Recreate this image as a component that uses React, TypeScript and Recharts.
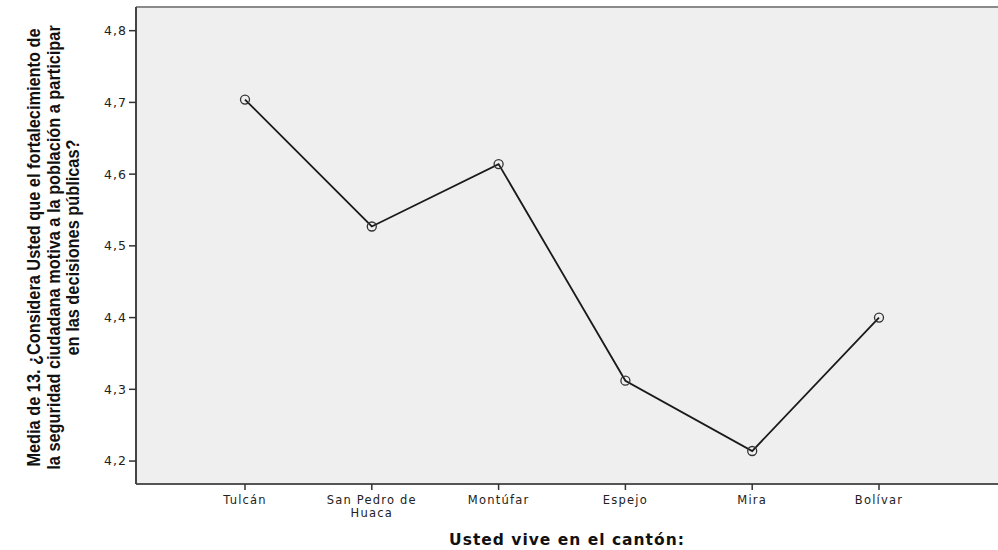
import React from 'react';
import { CartesianGrid, Label, Line, LineChart, ReferenceLine, XAxis, YAxis } from 'recharts';

const cantones = ['Tulcán', 'San Pedro de\nHuaca', 'Montúfar', 'Espejo', 'Mira', 'Bolívar'];
const medias = [4.704, 4.527, 4.614, 4.312, 4.214, 4.4];
const yTicks = [4.2, 4.3, 4.4, 4.5, 4.6, 4.7, 4.8];
const yTitleLines = [
  'Media de 13. ¿Considera Usted que el fortalecimiento de',
  'la seguridad ciudadana motiva a la población a participar',
  'en las decisiones públicas?',
];
const xTitle = 'Usted vive en el cantón:';

const data = cantones.map((canton, i) => ({ canton, media: medias[i] }));

const tickFont = '"DejaVu Sans", Verdana, sans-serif';

const CantonTick = ({ x, y, payload }: { x?: number; y?: number; payload?: { value: string } }) => {
  const lines = String(payload?.value ?? '').split('\n');
  return (
    <g>
      {lines.map((line, i) => (
        <text
          key={i}
          x={x}
          y={(y ?? 0) + 12 + i * 12.5}
          textAnchor="middle"
          fontFamily={tickFont}
          fontSize={11.5}
          letterSpacing={1.2}
          fill="#222"
        >
          {line}
        </text>
      ))}
    </g>
  );
};

// three centred lines, rotated and squeezed along the text to look like a narrow bold face
const YTitle = () => (
  <g transform="translate(53.5, 247.5) rotate(-90) scale(0.86, 1)">
    {yTitleLines.map((line, i) => (
      <text
        key={i}
        x={0}
        y={(i - 1) * 19.5}
        textAnchor="middle"
        dominantBaseline="central"
        fontFamily='"Liberation Sans", Arial, sans-serif'
        fontWeight="bold"
        fontSize={19}
        fill="#111"
      >
        {line}
      </text>
    ))}
  </g>
);

const XTitle = () => (
  <text
    x={567}
    y={545}
    textAnchor="middle"
    fontFamily='"DejaVu Sans", Verdana, sans-serif'
    fontWeight="bold"
    fontSize={15.5}
    letterSpacing={1}
    fill="#111"
  >
    {xTitle}
  </text>
);

export default function App() {
  return (
    <div style={{ position: 'absolute', left: 0, top: 0, width: 998, height: 550, background: '#fff' }}>
      <LineChart width={998} height={550} data={data} margin={{ top: 7, right: 0, bottom: 0, left: 0 }}>
        <CartesianGrid fill="#efefef" horizontal={false} vertical={false} />
        <ReferenceLine y={4.833} stroke="#8a8a8a" strokeWidth={2} />
        <XAxis
          dataKey="canton"
          padding={{ left: 109, right: 119 }}
          height={66}
          interval={0}
          tick={<CantonTick />}
          tickSize={6}
          tickLine={{ stroke: '#333', strokeWidth: 1.5 }}
          axisLine={{ stroke: '#555', strokeWidth: 2 }}
        >
          <Label content={<XTitle />} />
        </XAxis>
        <YAxis
          domain={[4.168, 4.833]}
          ticks={yTicks}
          width={136}
          tickSize={7}
          tickFormatter={(v: number) => v.toFixed(1).replace('.', ',')}
          tick={{ fontFamily: tickFont, fontSize: 12.5, fill: '#222', letterSpacing: 1 }}
          tickLine={{ stroke: '#333', strokeWidth: 1.5 }}
          axisLine={{ stroke: '#444', strokeWidth: 2 }}
          allowDataOverflow
        >
          <Label content={<YTitle />} />
        </YAxis>
        <Line
          dataKey="media"
          stroke="#1a1a1a"
          strokeWidth={1.8}
          dot={{ r: 4.5, stroke: '#333', strokeWidth: 1.3, fill: 'none' }}
          isAnimationActive={false}
        />
      </LineChart>
    </div>
  );
}
